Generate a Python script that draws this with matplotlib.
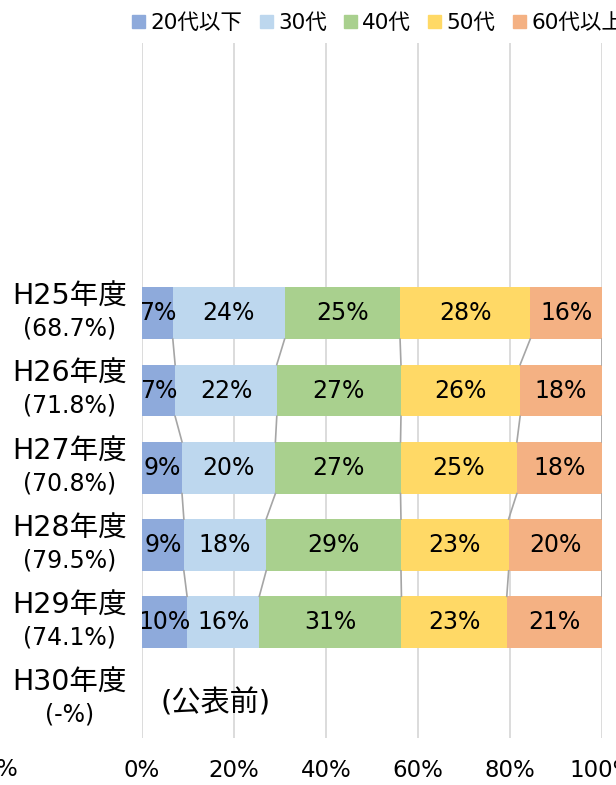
import numpy as np
import matplotlib
matplotlib.use("Agg")
import matplotlib.pyplot as plt
from matplotlib.patches import Patch
from matplotlib.transforms import blended_transform_factory

# DejaVu for latin (Verdana-like), Noto for the kanji
plt.rcParams['font.family'] = ['DejaVu Sans', 'Noto Sans CJK JP']

# data (shares in %)
years = ["H25年度", "H26年度", "H27年度", "H28年度", "H29年度", "H30年度"]
rates = ["(68.7%)", "(71.8%)", "(70.8%)", "(79.5%)", "(74.1%)", "(-%)"]
groups = ["20代以下", "30代", "40代", "50代", "60代以上"]
shares = np.array([
    [6.7, 24.3, 25.1, 28.3, 15.6],
    [7.2, 22.1, 27.0, 25.9, 17.8],
    [8.7, 20.3, 27.2, 25.3, 18.5],
    [9.1, 17.9, 29.3, 23.4, 20.3],
    [9.8, 15.7, 30.9, 22.9, 20.7],
])
colors = ["#8eaadb", "#bdd7ee", "#a9d08e", "#ffd966", "#f4b183"]
pending = "(公表前)"

fig = plt.figure(figsize=(6.16, 7.85), dpi=100)
ax = fig.add_axes([142/616, 47/785, 460/616, 695/785])

h = 0.67
y = np.arange(len(shares))
left = np.zeros(len(shares))
for j, (g, c) in enumerate(zip(groups, colors)):
    ax.barh(y, shares[:, j], left=left, height=h, color=c, label=g, zorder=2)
    for i in y:
        ax.text(left[i] + shares[i, j]/2, i, f"{shares[i, j]:.0f}%", ha='center', va='center',
                fontsize=17, color='black', zorder=4, clip_on=True)
    left += shares[:, j]

# series lines between bars
cum = np.cumsum(shares, axis=1)
for i in range(len(shares) - 1):
    for j in range(len(groups)):
        ax.plot([cum[i, j], cum[i+1, j]], [i + h/2, i + 1 - h/2], color='#a5a5a5', lw=1.2, zorder=3)

ax.text(16, 5.05, pending, ha='center', va='center', fontsize=21)

# category labels (two lines, two sizes)
tr = blended_transform_factory(ax.transAxes, ax.transData)
for i, (yr, r) in enumerate(zip(years, rates)):
    ax.text(-0.157, i - 0.21, yr, transform=tr, ha='center', va='center', fontsize=20.5)
    ax.text(-0.157, i + 0.2, r, transform=tr, ha='center', va='center', fontsize=17)

ax.set_xlim(0, 100)
ax.set_ylim(5.5, -3.5)
ax.set_xticks(range(0, 101, 20))
ax.set_xticklabels([f"{v}%" for v in range(0, 101, 20)], fontsize=16.5)
ax.set_yticks([])
ax.tick_params(axis='x', length=0, pad=15)
ax.grid(axis='x', color='#d9d9d9', lw=1.3, zorder=0)
for s in ax.spines.values():
    s.set_visible(False)

fig.text(-4/616, 15/785, "%", ha='left', va='center', fontsize=16.5)

handles = [Patch(color=c) for c in colors]
fig.legend(handles, groups, loc='upper left', bbox_to_anchor=(113/616, 1.008), ncol=5, frameon=False,
           fontsize=15.5, handlelength=0.6, handleheight=0.6, handletextpad=0.25, columnspacing=0.8)

fig.savefig("out.png", dpi=100)
